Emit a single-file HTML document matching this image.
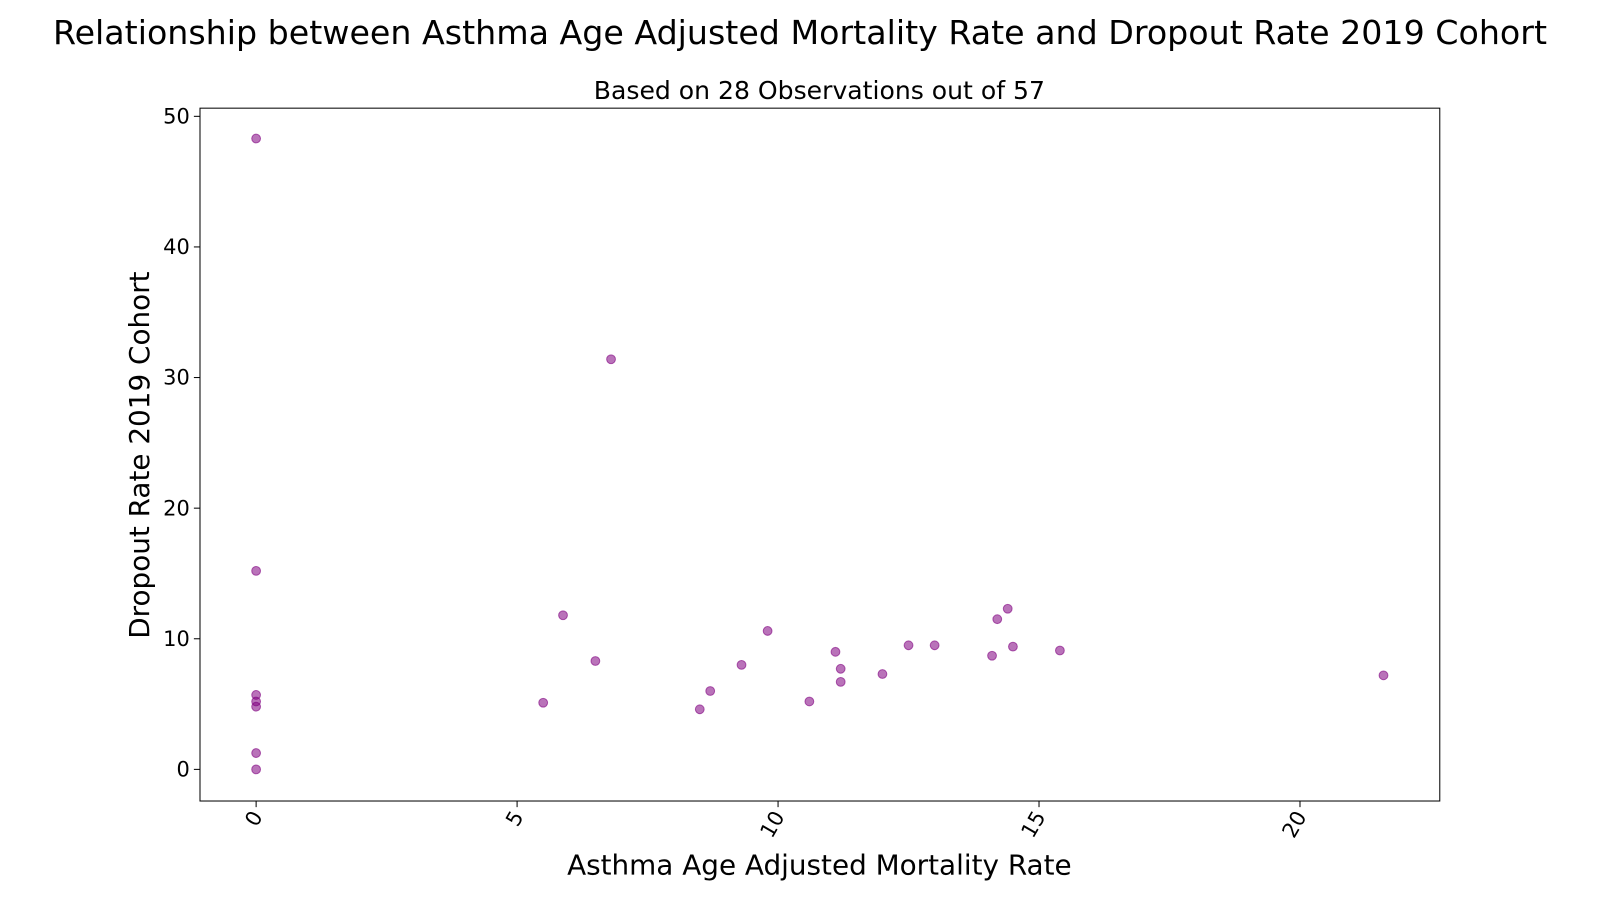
<!DOCTYPE html>
<html><head><meta charset="utf-8"><style>
html,body{margin:0;padding:0;background:#fff;}
svg{display:block;font-family:"DejaVu Sans","Liberation Sans",sans-serif;}
</style></head><body>
<svg id="chart" width="1600" height="900">
<g transform="scale(1.0204)">
<text x="784" y="43" font-size="32.6" text-anchor="middle">Relationship between Asthma Age Adjusted Mortality Rate and Dropout Rate 2019 Cohort</text>
<text x="803" y="97" font-size="24.6" text-anchor="middle">Based on 28 Observations out of 57</text>
<rect x="196" y="106" width="1215" height="679" fill="none" stroke="#000" stroke-width="1"/>
<g id="xt"></g><g id="yt"></g><g id="pts"></g>
<text x="803" y="857" font-size="27.3" text-anchor="middle">Asthma Age Adjusted Mortality Rate</text>
<text transform="translate(146,446) rotate(-90)" font-size="27.3" text-anchor="middle">Dropout Rate 2019 Cohort</text>
</g>
</svg>
<script>
const xVals=[0,6.8,0,5.88,6.5,5.5,8.5,8.7,9.3,9.8,10.6,11.1,11.2,11.2,12.0,12.5,13.0,14.1,14.2,14.4,14.5,15.4,21.6,0,0,0,0,0];
const yVals=[48.3,31.4,15.2,11.8,8.3,5.1,4.6,6.0,8.0,10.6,5.2,9.0,7.7,6.7,7.3,9.5,9.5,8.7,11.5,12.3,9.4,9.1,7.2,5.7,5.2,4.8,1.25,0];
const xTicks=[0,5,10,15,20];
const yTicks=[0,10,20,30,40,50];
const NS="http://www.w3.org/2000/svg";
const sx=v=>251+v*51.15, sy=v=>754-v*12.8;
function mk(t,a,p){const e=document.createElementNS(NS,t);for(const k in a)e.setAttribute(k,a[k]);p.appendChild(e);return e;}
const xt=document.getElementById('xt'),yt=document.getElementById('yt'),pts=document.getElementById('pts');
xTicks.forEach(v=>{const x=sx(v);
 const l=mk('line',{x1:x,x2:x,y1:785,y2:791,stroke:'#000'},xt);
 
 
 const t=mk('text',{x:x+7,y:800,'font-size':20.5,'text-anchor':'end',transform:`rotate(-60 ${x+7} 800)`},xt);
 t.textContent=v;
 
 
});
yTicks.forEach(v=>{const y=sy(v);
 const l=mk('line',{x1:190,x2:196,y1:y,y2:y,stroke:'#000'},yt);
 
 
 const t=mk('text',{x:186,y:y+7,'font-size':20.5,'text-anchor':'end'},yt);
 t.textContent=v;
 
 
});
xVals.forEach((v,i)=>{
 const c=mk('circle',{cx:sx(v),cy:sy(yVals[i]),r:4.3,fill:'#800080','fill-opacity':0.55,stroke:'#800080','stroke-opacity':0.6,'stroke-width':1},pts);
 
 
});
</script>
</body></html>
